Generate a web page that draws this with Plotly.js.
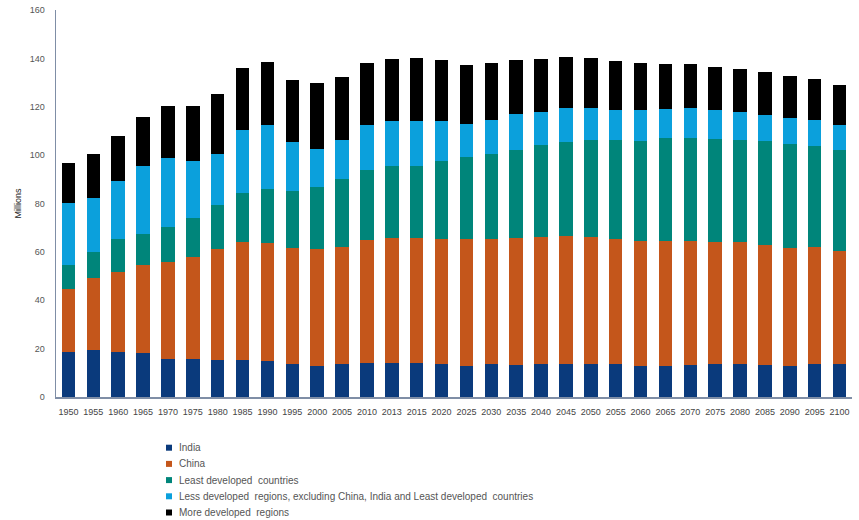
<!DOCTYPE html>
<html>
<head>
<meta charset="utf-8">
<script src="https://cdn.plot.ly/plotly-3.0.1.min.js"></script>
<style>html,body{margin:0;padding:0;background:#fff;}#chart{width:859px;height:520px;}</style>
</head>
<body>
<div id="chart"></div>
<script>
const years = ["1950","1955","1960","1965","1970","1975","1980","1985","1990","1995","2000","2005","2010","2013","2015","2020","2025","2030","2035","2040","2045","2050","2055","2060","2065","2070","2075","2080","2085","2090","2095","2100"];
const india = [18.6,19.3,18.6,18.0,15.9,15.6,15.2,15.2,14.8,13.5,12.7,13.5,14.2,14.2,14.1,13.5,12.7,13.5,13.3,13.8,13.8,13.5,13.5,12.7,12.7,13.1,13.5,13.5,13.1,12.7,13.5,13.5];
const china = [25.9,29.7,33.2,36.5,40.0,42.1,45.8,48.9,48.8,47.9,48.3,48.6,50.8,51.4,51.7,51.7,52.5,51.7,52.3,52.5,52.7,52.5,51.7,51.8,51.9,51.4,50.6,50.6,49.7,48.7,48.4,47.0];
const leastDeveloped = [10.0,11.0,13.5,12.9,14.5,16.4,18.4,20.1,22.3,23.9,26.0,28.0,28.9,29.9,29.9,32.5,33.9,35.2,36.7,37.9,39.1,40.3,41.1,41.2,42.4,42.7,42.7,42.3,42.9,43.1,41.9,41.7];
const lessDeveloped = [25.6,22.2,24.0,28.3,28.6,23.4,21.0,26.2,26.5,20.3,15.6,16.3,18.7,18.5,18.5,16.5,13.9,14.3,14.9,13.8,13.8,13.1,12.4,13.0,12.0,12.2,11.9,11.5,10.9,11.0,10.8,10.4];
const moreDeveloped = [16.8,18.2,18.8,20.0,21.4,23.0,24.7,25.8,26.2,25.5,27.3,26.1,25.4,25.7,25.9,25.2,24.3,23.3,22.2,21.7,21.1,20.6,20.2,19.3,18.8,18.4,17.9,17.7,17.6,17.4,16.8,16.3];
const seriesNames = ["India","China","Least developed  countries","Less developed  regions, excluding China, India and Least developed  countries","More developed  regions"];
const seriesColors = ["#0a3a7c","#c4561b","#00857a","#0ba0dc","#000000"];
const seriesValues = [india, china, leastDeveloped, lessDeveloped, moreDeveloped];

const W = 859, H = 520;
const M = {l: 56, r: 7, t: 10, b: 123};
const plotH = H - M.t - M.b, plotW = W - M.l - M.r;

const traces = seriesValues.map((v, i) => ({
  type: 'bar', x: years, y: v, name: seriesNames[i],
  marker: {color: seriesColors[i], line: {width: 0}},
  hoverinfo: 'x+y+name', showlegend: false
}));

// Compact legend built from the series names and colours (paper coordinates)
const legTextX = (176.5 - M.l) / plotW, sq = 6;
const shapes = [], annotations = [];
seriesNames.forEach((name, i) => {
  const cyPx = 447.7 + 16.2 * i;
  const cy = (H - M.b - cyPx) / plotH;
  const h = sq / plotH / 2;
  const x0 = (166 - M.l) / plotW, x1 = (166 + sq - M.l) / plotW;
  shapes.push({type: 'rect', xref: 'paper', yref: 'paper', x0: x0, x1: x1, y0: cy - h, y1: cy + h,
    fillcolor: seriesColors[i], line: {width: 0}});
  annotations.push({xref: 'paper', yref: 'paper', x: legTextX, y: cy, xanchor: 'left', yanchor: 'middle',
    text: name, showarrow: false, font: {size: 10, color: '#555'}});
});

const layout = {
  width: W, height: H,
  margin: M,
  paper_bgcolor: '#fff', plot_bgcolor: '#fff',
  barmode: 'stack', bargap: 0.46,
  font: {family: 'Liberation Sans, Arial, sans-serif', size: 9, color: '#444'},
  xaxis: {
    type: 'category', showgrid: false, zeroline: false,
    showline: true, linecolor: '#7f8ea6', linewidth: 1.5,
    ticks: 'outside', ticklen: 6, tickcolor: 'rgba(0,0,0,0)', tickangle: 0,
    tickfont: {size: 9, color: '#444'}
  },
  yaxis: {
    range: [0, 160], dtick: 20, showgrid: false, zeroline: false,
    showline: true, linecolor: '#7f8ea6', linewidth: 1.5,
    ticks: 'outside', ticklen: 8, tickcolor: 'rgba(0,0,0,0)',
    tickfont: {size: 9, color: '#555'},
    title: {text: 'Millions', font: {size: 9, color: '#222'}, standoff: 6}
  },
  shapes: shapes,
  annotations: annotations,
  showlegend: false
};

Plotly.newPlot('chart', traces, layout, {displayModeBar: false, staticPlot: true});
</script>
</body>
</html>
